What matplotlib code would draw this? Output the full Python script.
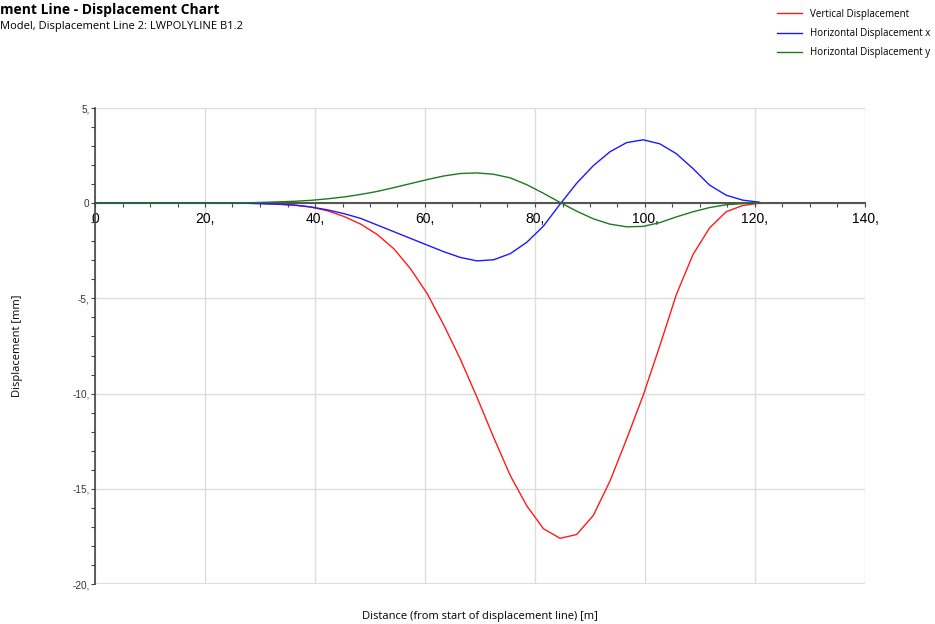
import matplotlib
matplotlib.use('Agg')
import matplotlib.pyplot as plt
import numpy as np

# distance along displacement line [m]
dist = np.linspace(0, 120.8, 41)

vertical = [0, 0, 0, 0, 0, 0, 0, 0, 0, 0,
	-0.02, -0.05, -0.1, -0.2, -0.4, -0.7, -1.1, -1.65, -2.4, -3.45,
	-4.75, -6.4, -8.2, -10.2, -12.3, -14.3, -15.9, -17.1, -17.6, -17.4,
	-16.4, -14.6, -12.4, -10.1, -7.5, -4.8, -2.7, -1.3, -0.45, -0.12, 0]

horiz_x = [0, 0, 0, 0, 0, 0, 0, 0, 0, 0,
	-0.02, -0.05, -0.1, -0.2, -0.35, -0.55, -0.8, -1.15, -1.5, -1.85,
	-2.2, -2.55, -2.85, -3.03, -2.97, -2.65, -2.05, -1.2, -0.05, 1.05,
	1.97, 2.7, 3.18, 3.33, 3.12, 2.6, 1.82, 0.95, 0.42, 0.16, 0.05]

horiz_y = [0, 0, 0, 0, 0, 0, 0, 0, 0.01, 0.02,
	0.04, 0.07, 0.1, 0.15, 0.23, 0.33, 0.46, 0.62, 0.82, 1.03,
	1.24, 1.43, 1.56, 1.59, 1.52, 1.33, 0.97, 0.52, 0.04, -0.42,
	-0.82, -1.1, -1.24, -1.22, -1.02, -0.72, -0.45, -0.23, -0.08, -0.02, 0]

xticks = [0, 20, 40, 60, 80, 100, 120, 140]
yticks = [5, 0, -5, -10, -15, -20]

def lab(v):
	return '0' if v == 0 else f'{v},'

plt.rcParams['font.family'] = ['Liberation Sans', 'DejaVu Sans']

fig = plt.figure(figsize=(9.35, 6.24), dpi=100)
ax = fig.add_axes([95/935, 1-584/624, 770/935, 476/624])

ax.plot(dist, vertical, color='#ff1a1a', lw=1.0, label='Vertical Displacement')
ax.plot(dist, horiz_x, color='#1a1aff', lw=1.0, label='Horizontal Displacement x')
ax.plot(dist, horiz_y, color='#1e7a1e', lw=1.0, label='Horizontal Displacement y')

ax.set_xlim(0, 140)
ax.set_ylim(-20, 5)
ax.set_xticks(xticks)
ax.set_xticklabels([lab(v) for v in xticks], fontsize=7.2, color='#333333')
ax.set_yticks(yticks)
ax.set_yticklabels([lab(v) for v in yticks], fontsize=7.2, color='#333333')
ax.set_xticks(np.arange(0, 141, 5), minor=True)
ax.set_yticks(np.arange(-20, 6, 1), minor=True)

ax.grid(True, which='major', color='#dddddd', lw=1.0)
ax.set_axisbelow(True)

for s in ['top', 'right']:
	ax.spines[s].set_visible(False)
ax.spines['bottom'].set_position(('data', 0))
ax.spines['bottom'].set_color('#555555')
ax.spines['bottom'].set_linewidth(1.5)
ax.spines['bottom'].set_zorder(1.5)
ax.spines['left'].set_color('#444444')
ax.spines['left'].set_linewidth(1.2)

ax.tick_params(axis='x', which='both', direction='out', length=3, width=0.8, color='#444444', pad=3)
ax.tick_params(axis='y', which='both', direction='out', length=3, width=0.8, color='#444444', pad=1)

# gridline along the lower edge
ax.axhline(-20, color='#dddddd', lw=1.5, zorder=0)

fig.text(480/935, 1-616/624, 'Distance (from start of displacement line) [m]',
	ha='center', va='center', fontsize=8, family=['Open Sans', 'DejaVu Sans'])
fig.text(18/935, 1-346/624, 'Displacement [mm]', rotation=90,
	ha='center', va='center', fontsize=8, family=['Open Sans', 'DejaVu Sans'])

fig.text(0, 1-10/624, 'ment Line - Displacement Chart', ha='left', va='center',
	fontsize=10, fontweight='bold', family=['Open Sans', 'DejaVu Sans'])
fig.text(0, 1-27/624, 'Model, Displacement Line 2: LWPOLYLINE B1.2', ha='left', va='center',
	fontsize=8, family=['Open Sans', 'DejaVu Sans'])

fig.legend(loc='upper left', bbox_to_anchor=(773/935, 1-5/624), frameon=False,
	prop={'family': ['Open Sans', 'DejaVu Sans'], 'size': 7},
	handlelength=2.6, labelspacing=0.85, handletextpad=0.85, borderaxespad=0)

fig.savefig('out.png', dpi=100)
